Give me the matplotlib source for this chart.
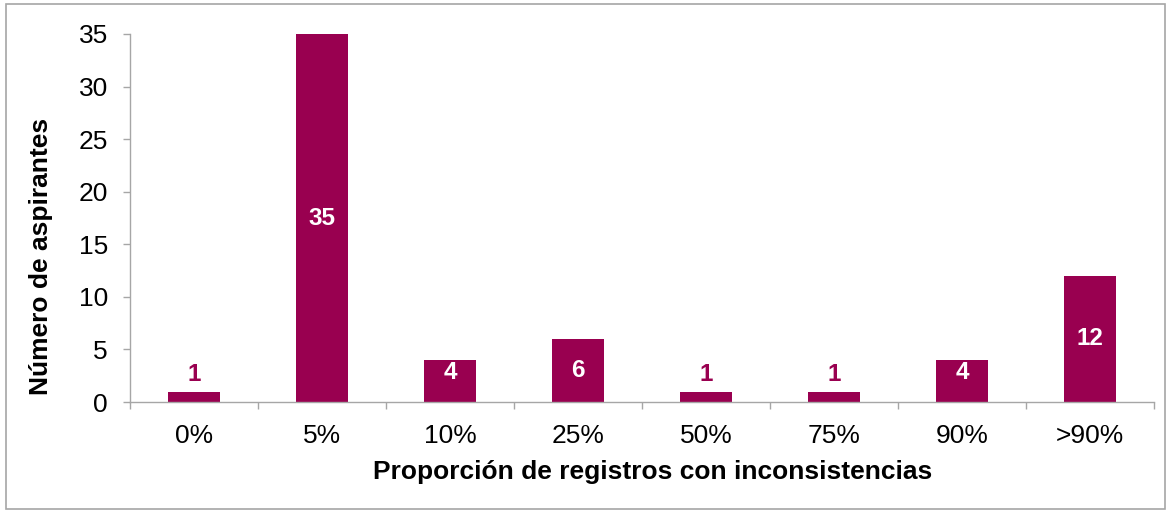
import numpy as np
import matplotlib.pyplot as plt

plt.rcParams['font.family'] = ['Liberation Sans', 'DejaVu Sans']

categorias = ['0%', '5%', '10%', '25%', '50%', '75%', '90%', '>90%']
aspirantes = [1, 35, 4, 6, 1, 1, 4, 12]

color_barra = '#990050'
gris = '#a6a6a6'

fig = plt.figure(figsize=(11.71, 5.12), dpi=100)
ax = fig.add_axes([0.111, 0.2148, 0.8745, 0.7188])

x = np.arange(len(categorias))
ax.bar(x, aspirantes, width=0.4, color=color_barra, zorder=2)

for xi, v in zip(x, aspirantes):
    if v <= 1:
        ax.text(xi, v + 1.6, str(v), ha='center', va='center',
                color=color_barra, fontsize=17.5, fontweight='bold')
    else:
        ax.text(xi, max(v / 2, 2.8), str(v), ha='center', va='center',
                color='white', fontsize=17.5, fontweight='bold')

ax.set_xlim(-0.5, len(categorias) - 0.5)
ax.set_ylim(0, 35)
ax.set_yticks(range(0, 36, 5))
ax.set_xticks(x)
ax.set_xticklabels(categorias)
ax.set_xticks(np.arange(-0.5, len(categorias), 1), minor=True)
ax.tick_params(axis='x', which='major', length=0, pad=16, labelsize=19)
ax.tick_params(axis='x', which='minor', length=5, color=gris, width=1)
ax.tick_params(axis='y', length=5, color=gris, width=1, labelsize=19, pad=11)

for s in ['top', 'right']:
    ax.spines[s].set_visible(False)
for s in ['left', 'bottom']:
    ax.spines[s].set_color(gris)
    ax.spines[s].set_linewidth(1)

ax.set_xlabel('Proporción de registros con inconsistencias', fontsize=19,
              fontweight='bold', va='center')
ax.xaxis.set_label_coords(0.51, -0.19)
ax.set_ylabel('Número de aspirantes', fontsize=19, fontweight='bold', va='center')
ax.yaxis.set_label_coords(-0.087, 0.395)

borde = plt.Rectangle((0.005, 0.006), 0.99, 0.986, transform=fig.transFigure,
                      fill=False, edgecolor=gris, linewidth=1.2)
fig.patches.append(borde)

fig.savefig('out.png', dpi=100)
